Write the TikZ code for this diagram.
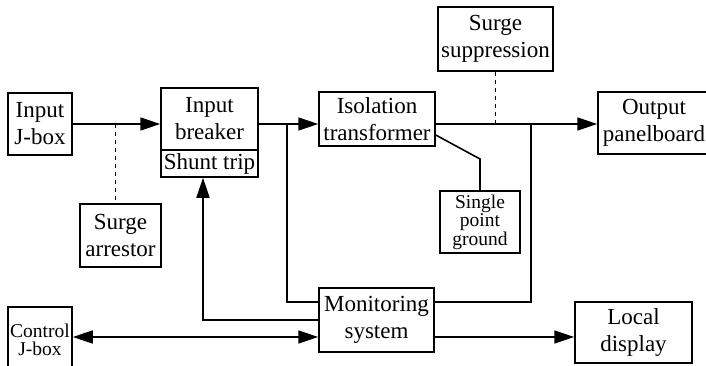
\documentclass[tikz,border=0pt]{standalone}
\usepackage{fontspec}
\setmainfont{Liberation Serif}
\usetikzlibrary{arrows.meta}
\begin{document}
\begin{tikzpicture}[x=1pt,y=-1pt,
  box/.style={draw,line width=1.5pt,inner sep=1pt,align=center,font=\fontsize{23}{27}\selectfont},
  smallbox/.style={box,font=\fontsize{19.5}{18.5}\selectfont},
  link/.style={line width=1.6pt},
  tip/.style={-{Triangle[length=20pt,width=13pt]}},
  tips/.style={{Triangle[length=20pt,width=13pt]}-{Triangle[length=20pt,width=13pt]}},
  tap/.style={line width=1pt,dash pattern=on 4pt off 4pt}]
\useasboundingbox (0,0) rectangle (706,366);
\clip (0,0) rectangle (706,366);
\coordinate (mainrow) at (0,124);
\coordinate (ctrlrow) at (0,337);
% boxes
\node[box,minimum width=64pt,minimum height=62pt] (injbox) at (40,124) {Input\\J-box};
\node[box,minimum width=97pt,minimum height=62pt] (breaker) at (209.5,119) {Input\\breaker};
\node[box,minimum width=97pt,minimum height=27pt] (shunt) at (209.5,163.5) {Shunt trip};
\node[box,minimum width=81pt,minimum height=63pt] (arrestor) at (120.5,235.5) {Surge\\arrestor};
\node[box,minimum width=116pt,minimum height=54pt] (isolation) at (377,119) {Isolation\\transformer};
\node[box,minimum width=115pt,minimum height=64pt] (suppress) at (495.5,39) {Surge\\suppression};
\node[box,minimum width=112pt,minimum height=62pt] (panel) at (654,123) {Output\\panelboard};
\node[smallbox,minimum width=80pt,minimum height=62pt] (ground) at (480,222) {Single\\point\\ground};
\node[box,minimum width=115pt,minimum height=64pt] (monitor) at (376.5,320) {Monitoring\\system};
\node[smallbox,minimum width=64pt,minimum height=66pt] (ctrlbox) at (40,340) {Control\\J-box};
\node[box,minimum width=117pt,minimum height=61pt] (display) at (633.5,332.5) {Local\\display};
% power path
\draw[link,tip] (injbox.east) -- (injbox.east -| breaker.west);
\draw[link,tip] (breaker.east |- mainrow) -- (isolation.west |- mainrow);
\draw[link,tip] (isolation.east |- mainrow) -- (panel.west |- mainrow);
\draw[tap] (115,124) -- (115,124 |- arrestor.north);
\draw[tap,line width=1.4pt] (suppress.south) -- (suppress.south |- mainrow);
\draw[link] (isolation.east |- 0,135) -- (480,159) -- (ground.north);
% monitoring
\draw[link] (287,124) -- (287,302) -- (monitor.west |- 0,302);
\draw[link] (531,124) -- (531,302) -- (monitor.east |- 0,302);
\draw[link,tip] (monitor.west |- 0,320) -| ([xshift=-6.5pt]shunt.south);
\draw[link,tips] (ctrlbox.east |- ctrlrow) -- (monitor.west |- ctrlrow);
\draw[link,tip] (monitor.east |- ctrlrow) -- (display.west |- ctrlrow);
\end{tikzpicture}
\end{document}
